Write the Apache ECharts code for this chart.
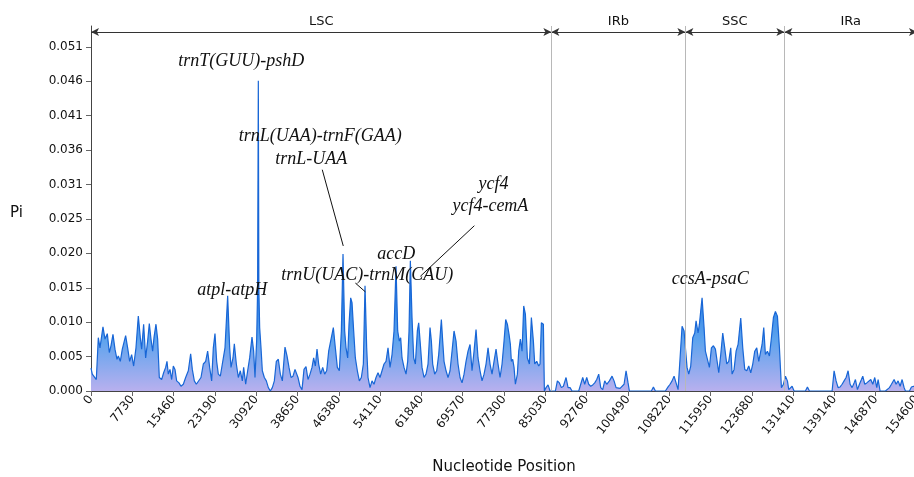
<!DOCTYPE html>
<html>
<head>
<meta charset="utf-8">
<script src="https://cdn.jsdelivr.net/npm/echarts@6/dist/echarts.min.js"></script>
<style>
html, body { margin: 0; padding: 0; background: #fff; }
#main { width: 914px; height: 477px; }
</style>
</head>
<body>
<div id="main"></div>
<script>
// sliding window Pi values, [position, Pi]
var lscPoints = [
  [0, 0.0034], [244, 0.0025], [618, 0.0027], [993, 0.0017], [1367, 0.0079], [1679, 0.0064],
  [2241, 0.0095], [2615, 0.0077], [3052, 0.0085], [3426, 0.0057], [3738, 0.0067], [4113, 0.0084],
  [4487, 0.0062], [4861, 0.0047], [5111, 0.0052], [5485, 0.0044], [5860, 0.0062], [6484, 0.0082],
  [6858, 0.0064], [7233, 0.0044], [7607, 0.0054], [7981, 0.0037], [8418, 0.0064], [8855, 0.0111],
  [9229, 0.0079], [9479, 0.0062], [9853, 0.0099], [10228, 0.0049], [10602, 0.0074], [10914, 0.0100],
  [11226, 0.0077], [11538, 0.0059], [11788, 0.0079], [12162, 0.0099], [12474, 0.0077], [12786, 0.0020],
  [13223, 0.0017], [13597, 0.0027], [13972, 0.0035], [14221, 0.0044], [14471, 0.0025], [14783, 0.0032],
  [15095, 0.0017], [15407, 0.0037], [15719, 0.0032], [16031, 0.0015], [16468, 0.0012], [16842, 0.0007],
  [17279, 0.0010], [17716, 0.0020], [18215, 0.0030], [18652, 0.0055], [18964, 0.0032], [19338, 0.0015],
  [19713, 0.0010], [20087, 0.0012], [20586, 0.0020], [21023, 0.0040], [21460, 0.0044], [21834, 0.0059],
  [22209, 0.0035], [22583, 0.0015], [22895, 0.0064], [23207, 0.0085], [23519, 0.0044], [23831, 0.0025],
  [24206, 0.0022], [24580, 0.0040], [25079, 0.0064], [25578, 0.0141], [25953, 0.0064], [26202, 0.0035],
  [26577, 0.0049], [26826, 0.0070], [27201, 0.0040], [27575, 0.0020], [27949, 0.0030], [28324, 0.0015],
  [28573, 0.0035], [28948, 0.0010], [29322, 0.0030], [29697, 0.0049], [30133, 0.0080], [30445, 0.0059],
  [30695, 0.0020], [31007, 0.0075], [31180, 0.0150], [31318, 0.0460], [31420, 0.0150], [31569, 0.0094],
  [31818, 0.0064], [32068, 0.0030],
  [32442, 0.0020], [32817, 0.0015], [33191, 0.0005], [33565, 0.0000], [33940, 0.0005], [34314, 0.0015],
  [34689, 0.0044], [35063, 0.0047], [35437, 0.0025], [35812, 0.0015], [36311, 0.0065], [36685, 0.0052],
  [37060, 0.0035], [37434, 0.0020], [37809, 0.0022], [38183, 0.0032], [38744, 0.0020], [39119, 0.0007],
  [39493, 0.0002], [39867, 0.0032], [40242, 0.0036], [40616, 0.0017], [40991, 0.0025], [41365, 0.0035],
  [41677, 0.0049], [41989, 0.0037], [42301, 0.0062], [42613, 0.0040], [42987, 0.0025], [43362, 0.0035],
  [43736, 0.0025], [44111, 0.0030], [44485, 0.0059], [44984, 0.0079], [45359, 0.0094], [45733, 0.0064],
  [46107, 0.0035], [46482, 0.0030], [46856, 0.0089], [47168, 0.0203], [47480, 0.0089], [47730, 0.0064],
  [48042, 0.0049], [48291, 0.0099], [48603, 0.0138], [48853, 0.0131], [49165, 0.0089], [49477, 0.0049],
  [49851, 0.0030], [50226, 0.0015], [50600, 0.0020], [50975, 0.0040], [51287, 0.0156], [51599, 0.0064],
  [51848, 0.0020], [52223, 0.0005], [52597, 0.0015], [52971, 0.0010], [53346, 0.0020], [53720, 0.0027],
  [54095, 0.0020], [54469, 0.0030], [54843, 0.0040], [55218, 0.0044], [55592, 0.0064], [55967, 0.0035],
  [56341, 0.0054], [56715, 0.0089], [57090, 0.0185], [57402, 0.0089], [57714, 0.0074], [57963, 0.0079],
  [58213, 0.0049], [58587, 0.0035], [58962, 0.0025], [59274, 0.0044], [59523, 0.0089], [59773, 0.0193],
  [60085, 0.0109], [60397, 0.0049], [60709, 0.0040], [61083, 0.0089], [61333, 0.0101], [61645, 0.0069],
  [61957, 0.0035], [62331, 0.0020], [62706, 0.0025], [63080, 0.0040], [63455, 0.0094], [63704, 0.0074],
  [63954, 0.0040], [64328, 0.0025], [64703, 0.0030], [65077, 0.0054], [65576, 0.0106], [65826, 0.0074],
  [66075, 0.0044], [66450, 0.0030], [66824, 0.0020], [67199, 0.0030], [67573, 0.0059], [67947, 0.0089],
  [68322, 0.0074], [68696, 0.0040], [69071, 0.0020], [69445, 0.0012], [69819, 0.0025], [70194, 0.0044],
  [70568, 0.0059], [70943, 0.0069], [71317, 0.0030], [71691, 0.0059], [72066, 0.0091], [72440, 0.0049],
  [72815, 0.0030], [73189, 0.0015], [73563, 0.0025], [73938, 0.0040], [74312, 0.0064], [74687, 0.0040],
  [75061, 0.0025], [75435, 0.0044], [75810, 0.0062], [76184, 0.0040], [76559, 0.0020], [76933, 0.0040],
  [77307, 0.0074], [77619, 0.0106], [77931, 0.0099], [78243, 0.0084], [78493, 0.0069], [78680, 0.0044],
  [78930, 0.0047], [79180, 0.0035], [79429, 0.0010], [79803, 0.0025], [80053, 0.0059], [80365, 0.0077],
  [80677, 0.0059], [80989, 0.0126], [81301, 0.0114], [81675, 0.0049], [82050, 0.0040], [82424, 0.0109],
  [82799, 0.0074], [83048, 0.0040], [83423, 0.0044], [83797, 0.0037], [84047, 0.0040], [84296, 0.0101],
  [84671, 0.0099], [84858, 0.0000], [85170, 0.0005], [85544, 0.0009], [85919, 0.0000]
];
var irbPoints = [
  [86293, 0], [86917, 0], [87291, 0.0015], [87666, 0.0012], [88040, 0.0005], [88415, 0.0007],
  [88914, 0.0020], [89288, 0.0005], [89663, 0.0005], [90037, 0], [91285, 0], [91659, 0.0010],
  [92034, 0.0020], [92408, 0.0010], [92783, 0.0020], [93157, 0.0010], [93531, 0.0007], [93906, 0.0009],
  [94280, 0.0012], [94655, 0.0017], [95029, 0.0025], [95403, 0.0005], [95778, 0.0002], [96152, 0.0015],
  [96527, 0.0010], [97026, 0.0015], [97525, 0.0022], [97899, 0.0015], [98274, 0.0005], [98648, 0.0005],
  [99023, 0.0004], [99397, 0.0006], [99771, 0.0010], [100146, 0.0030], [100520, 0.0012], [100770, 0],
  [104888, 0], [105263, 0.0006], [105637, 0], [107509, 0], [108008, 0.0006], [108383, 0.0010],
  [108757, 0.0015], [109131, 0.0022], [109506, 0.0012], [109880, 0.0002], [110255, 0.0049],
  [110629, 0.0096], [111003, 0.0089]
];
var sscPoints = [
  [111253, 0.0064], [111565, 0.0035], [111877, 0.0025], [112251, 0.0037], [112626, 0.0079], [113000, 0.0086],
  [113250, 0.0104], [113624, 0.0086], [113874, 0.0099], [114123, 0.0119], [114373, 0.0138], [114747, 0.0094],
  [114997, 0.0059], [115371, 0.0057], [115746, 0.0035], [116120, 0.0064], [116495, 0.0067], [116869, 0.0062],
  [117243, 0.0064], [117493, 0.0027], [117867, 0.0054], [118242, 0.0086], [118616, 0.0064], [118991, 0.0040],
  [119365, 0.0044], [119739, 0.0064], [119989, 0.0025], [120363, 0.0032], [120738, 0.0059], [121112, 0.0069],
  [121611, 0.0108], [121986, 0.0064], [122360, 0.0032], [122735, 0.0030], [123109, 0.0037], [123483, 0.0027],
  [123858, 0.0040], [124232, 0.0059], [124607, 0.0064], [124981, 0.0044], [125355, 0.0059], [125605, 0.0069],
  [125917, 0.0094], [126229, 0.0054], [126603, 0.0059], [126978, 0.0052], [127352, 0.0079], [127727, 0.0109],
  [128101, 0.0118], [128475, 0.0111], [128850, 0.0064], [129224, 0.0005], [129599, 0.0010]
];
var iraPoints = [
  [129973, 0.0022], [130347, 0.0015], [130597, 0.0002], [130971, 0.0002], [131221, 0.0007], [131595, 0],
  [133717, 0], [134091, 0.0006], [134466, 0], [138709, 0], [139083, 0.0030], [139458, 0.0015],
  [139832, 0.0005], [140207, 0.0006], [140581, 0.0010], [140955, 0.0015], [141330, 0.0020], [141704, 0.0030],
  [142079, 0.0010], [142453, 0.0005], [142827, 0.0012], [143077, 0.0017], [143451, 0.0002], [143826, 0.0010],
  [144200, 0.0017], [144450, 0.0022], [144824, 0.0010], [145199, 0.0012], [145573, 0.0010], [145947, 0.0017],
  [146322, 0.0010], [146696, 0.0020], [147071, 0.0005], [147320, 0.0017], [147695, 0], [148693, 0],
  [149442, 0.0005], [149816, 0.0010], [150316, 0.0017], [150690, 0.0010], [151064, 0.0015], [151439, 0.0007],
  [151813, 0.0017], [152188, 0.0005], [152437, 0], [153186, 0], [153560, 0.0006], [153935, 0.0007],
  [154600, 0.0007]
];

var yTicks = [0, 0.0051, 0.0102, 0.0153, 0.0204, 0.0255, 0.0306, 0.0357, 0.0408, 0.0459, 0.051];
var regionNames = ['LSC', 'IRb', 'SSC', 'IRa'];
var regionBounds = [0, 86166, 111250, 129783, 154600];
var regionLineY = 0.0532;

// gene labels: [name, position, Pi]
var geneLabels = [
  ['trnT(GUU)-pshD', 28136, 0.0489],
  ['trnL(UAA)-trnF(GAA)', 42909, 0.0378],
  ['trnL-UAA', 41240, 0.0343],
  ['ycf4', 75314, 0.0307],
  ['ycf4-cemA', 74752, 0.0274],
  ['accD', 57152, 0.0202],
  ['trnU(UAC)-trnM(CAU)', 51723, 0.0171],
  ['atpl-atpH', 26434, 0.0150],
  ['ccsA-psaC', 115923, 0.0165]
];
var leaders = [
  [[43283, 0.0328], [47215, 0.0215]],
  [[71754, 0.0245], [61645, 0.0170]],
  [[49477, 0.0160], [51349, 0.0147]]
];

var piData = lscPoints.concat(irbPoints, sscPoints, iraPoints);

var chart = echarts.init(document.getElementById('main'));

var segLines = [];
for (var i = 0; i < regionNames.length; i++) {
  segLines.push([
    { coord: [regionBounds[i], regionLineY], name: regionNames[i] },
    { coord: [regionBounds[i + 1], regionLineY] }
  ]);
}
var boundLines = regionBounds.slice(1, 4).map(function (b) { return { xAxis: b }; });

var option = {
  animation: false,
  grid: { left: 91, right: -3, top: 26, bottom: 86, outerBoundsMode: 'none', containLabel: false },
  xAxis: {
    type: 'value',
    min: 0,
    max: 154600,
    interval: 7730,
    name: 'Nucleotide Position',
    nameLocation: 'middle',
    nameGap: 69,
    nameTextStyle: { fontFamily: 'DejaVu Sans', fontSize: 15, color: '#111' },
    axisLine: { lineStyle: { color: '#444', width: 1 } },
    axisTick: { length: 5, lineStyle: { color: '#666' } },
    splitLine: { show: false },
    axisLabel: {
      rotate: 52,
      margin: 6,
      fontFamily: 'DejaVu Sans',
      fontSize: 12,
      color: '#111',
      formatter: function (v) { return String(v); }
    }
  },
  yAxis: {
    type: 'value',
    min: 0,
    max: 0.0541,
    name: 'Pi',
    nameLocation: 'middle',
    nameRotate: 0,
    nameGap: 68,
    nameTextStyle: { fontFamily: 'DejaVu Sans', fontSize: 15, color: '#111', verticalAlign: 'top', lineHeight: 10 },
    axisLine: { show: true, lineStyle: { color: '#444', width: 1 } },
    axisTick: { show: true, length: 5, customValues: yTicks, lineStyle: { color: '#666' } },
    splitLine: { show: false },
    axisLabel: {
      customValues: yTicks,
      margin: 8,
      fontFamily: 'DejaVu Sans',
      fontSize: 12,
      color: '#111',
      formatter: function (v) { return v.toFixed(3); }
    }
  },
  series: [
    {
      name: 'Pi',
      type: 'line',
      data: piData,
      showSymbol: false,
      symbol: 'none',
      smooth: false,
      z: 3,
      lineStyle: { color: '#1866d6', width: 1.2 },
      areaStyle: {
        color: new echarts.graphic.LinearGradient(0, 300, 0, 391, [
          { offset: 0, color: '#2d84e6' },
          { offset: 0.45, color: '#5fa4ee' },
          { offset: 1, color: '#b8b0ee' }
        ], true),
        opacity: 1
      },
      markPoint: {
        symbol: 'circle',
        symbolSize: 0,
        silent: true,
        label: {
          show: true,
          position: 'inside',
          formatter: '{b}',
          fontFamily: 'Liberation Serif',
          fontStyle: 'italic',
          fontSize: 18,
          color: '#111'
        },
        data: geneLabels.map(function (g) {
          return { name: g[0], coord: [g[1], g[2]] };
        })
      }
    },
    {
      type: 'line',
      data: [],
      silent: true,
      markLine: {
        silent: true,
        symbol: ['arrow', 'arrow'],
        symbolSize: [6, 8],
        lineStyle: { color: '#333', width: 1, type: 'solid' },
        label: {
          show: true,
          position: 'insideMiddleTop',
          distance: 4,
          formatter: '{b}',
          fontFamily: 'DejaVu Sans',
          fontSize: 13,
          color: '#111'
        },
        data: segLines
      }
    },
    {
      type: 'line',
      data: [],
      silent: true,
      markLine: {
        silent: true,
        symbol: 'none',
        lineStyle: { color: '#b8b8b8', width: 1, type: 'solid' },
        label: { show: false },
        data: boundLines
      }
    },
    {
      type: 'line',
      data: [],
      silent: true,
      markLine: {
        silent: true,
        symbol: 'none',
        lineStyle: { color: '#111', width: 1, type: 'solid' },
        label: { show: false },
        data: leaders.map(function (l) {
          return [{ coord: l[0] }, { coord: l[1] }];
        })
      }
    }
  ]
};

chart.setOption(option);
</script>
</body>
</html>
